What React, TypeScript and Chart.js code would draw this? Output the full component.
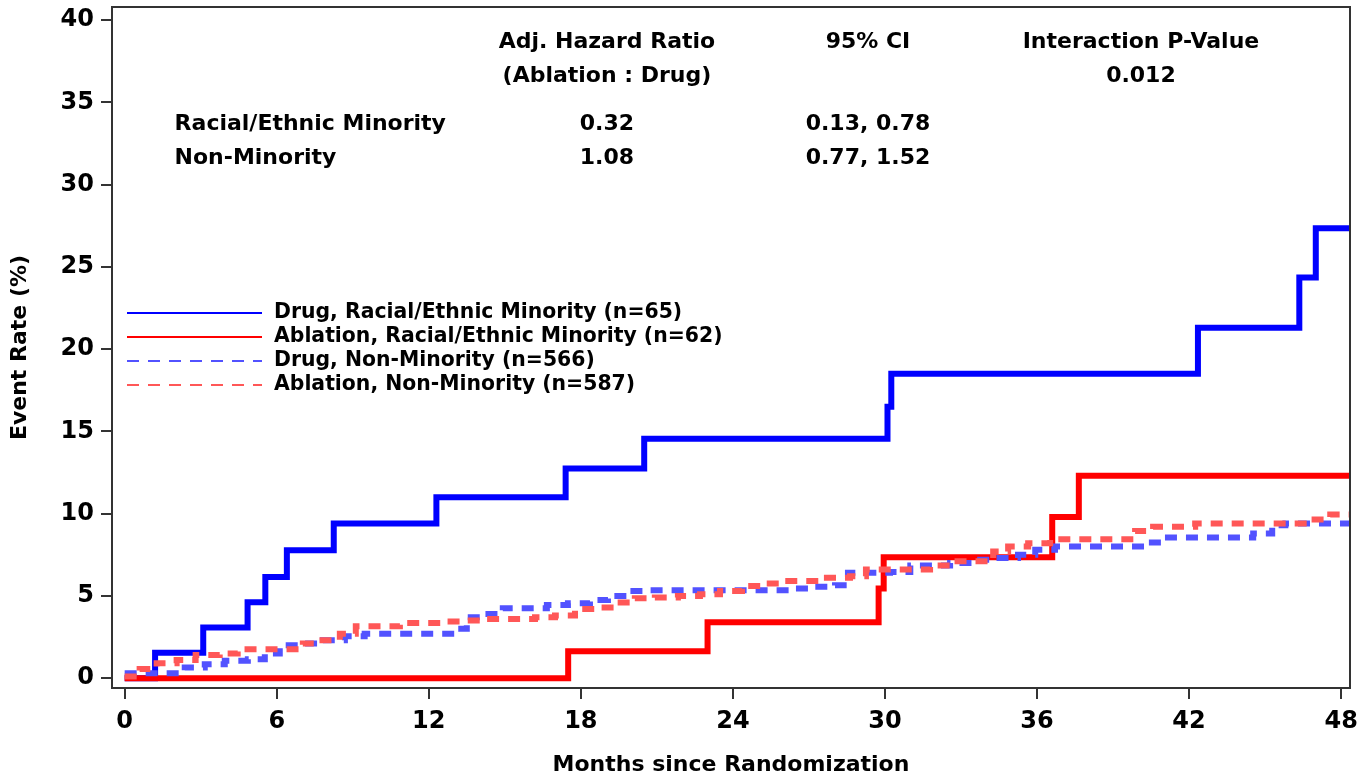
import React, { useEffect, useRef } from 'react';
import { Chart, registerables } from 'chart.js';

Chart.register(...registerables);

// ---------- tick labels ----------
const X_TICKS = [0, 6, 12, 18, 24, 30, 36, 42, 48];
const Y_TICKS = [0, 5, 10, 15, 20, 25, 30, 35, 40];

// ---------- series (month of step, cumulative event rate %) ----------
const drugMinorityMonths = [0, 1.2, 3.1, 4.85, 5.55, 6.4, 8.25, 12.3, 17.4, 20.5, 30.1, 30.25, 42.35, 46.35, 47.0, 48.4];
const drugMinorityRates = [0, 1.54, 3.08, 4.62, 6.15, 7.77, 9.4, 11.0, 12.75, 14.55, 16.5, 18.5, 21.3, 24.35, 27.35, 27.35];

const ablationMinorityMonths = [0, 17.5, 23.0, 29.75, 29.95, 36.6, 37.65, 48.4];
const ablationMinorityRates = [0, 1.64, 3.4, 5.45, 7.35, 9.8, 12.3, 12.3];

const drugNonMinorityMonths = [0, 2.37, 3.16, 3.95, 4.86, 5.53, 6.12, 7.03, 7.82, 8.69, 9.47, 13.03, 13.5, 14.2, 14.92, 16.66, 17.49, 18.36, 19.07, 19.94, 20.73, 26.25, 27.04, 28.03, 28.54, 30.2, 31.0, 32.57, 33.56, 34.35, 35.25, 35.93, 36.71, 40.39, 40.98, 44.53, 45.28, 45.8, 48.4];
const drugNonMinorityRates = [0.3, 0.65, 0.85, 1.05, 1.15, 1.5, 2.0, 2.1, 2.3, 2.55, 2.7, 3.0, 3.7, 3.9, 4.25, 4.45, 4.55, 4.75, 5.0, 5.3, 5.35, 5.45, 5.55, 5.65, 6.4, 6.45, 6.85, 7.0, 7.2, 7.3, 7.5, 7.8, 8.0, 8.25, 8.55, 8.8, 9.3, 9.4, 9.4];

const ablationNonMinorityMonths = [0, 0.59, 1.26, 2.05, 2.8, 3.75, 4.46, 7.03, 7.5, 8.49, 9.12, 10.86, 12.63, 13.5, 14.29, 16.19, 16.98, 17.77, 18.63, 19.34, 20.13, 20.92, 21.83, 22.7, 23.49, 24.36, 25.15, 26.06, 27.71, 28.62, 29.25, 31.78, 32.69, 34.27, 34.86, 35.65, 36.52, 39.87, 40.58, 42.24, 46.78, 47.57, 48.4];
const ablationNonMinorityRates = [0.1, 0.55, 0.9, 1.1, 1.4, 1.5, 1.75, 2.1, 2.3, 2.7, 3.15, 3.35, 3.45, 3.5, 3.6, 3.7, 3.8, 4.2, 4.3, 4.6, 4.85, 4.9, 5.0, 5.1, 5.3, 5.6, 5.75, 5.9, 6.1, 6.2, 6.6, 6.85, 7.1, 7.7, 8.0, 8.2, 8.45, 8.95, 9.2, 9.4, 9.65, 9.95, 9.95];

const SERIES_LABELS = [
  'Drug, Racial/Ethnic Minority (n=65)',
  'Ablation, Racial/Ethnic Minority (n=62)',
  'Drug, Non-Minority (n=566)',
  'Ablation, Non-Minority (n=587)',
];

// ---------- annotation table ----------
const HR_HEADER = ['Adj. Hazard Ratio', '(Ablation : Drug)'];
const CI_HEADER = '95% CI';
const P_HEADER = 'Interaction P-Value';
const P_VALUE = '0.012';
const GROUPS = ['Racial/Ethnic Minority', 'Non-Minority'];
const HR_VALUES = ['0.32', '1.08'];
const CI_VALUES = ['0.13, 0.78', '0.77, 1.52'];

const X_TITLE = 'Months since Randomization';
const Y_TITLE = 'Event Rate (%)';

const FONT = '"DejaVu Sans", sans-serif';

const toPoints = (xs: number[], ys: number[]) => xs.map((x, i) => ({ x, y: ys[i] }));

const COLORS = ['#0000ff', '#ff0000', '#5252ff', '#ff5757'];
const DASHED = [false, false, true, true];

const overlayPlugin = {
  id: 'overlay',
  afterDraw(chart: any) {
    const { ctx, chartArea, scales } = chart;
    const xs = scales.x;
    const ys = scales.y;
    ctx.save();
    // frame
    ctx.strokeStyle = '#333333';
    ctx.lineWidth = 2;
    ctx.setLineDash([]);
    ctx.strokeRect(chartArea.left, chartArea.top, chartArea.right - chartArea.left, chartArea.bottom - chartArea.top);

    // annotation table
    ctx.fillStyle = '#000';
    ctx.textBaseline = 'middle';
    ctx.font = `bold 22px ${FONT}`;
    const colHR = xs.getPixelForValue(19.03);
    const colCI = xs.getPixelForValue(29.33);
    const colP = xs.getPixelForValue(40.1);
    const colG = xs.getPixelForValue(1.97);
    const row1 = ys.getPixelForValue(38.65);
    const row2 = ys.getPixelForValue(36.6);
    const rowA = ys.getPixelForValue(33.7);
    const rowB = ys.getPixelForValue(31.63);
    ctx.textAlign = 'center';
    ctx.fillText(HR_HEADER[0], colHR, row1);
    ctx.fillText(HR_HEADER[1], colHR, row2);
    ctx.fillText(CI_HEADER, colCI, row1);
    ctx.fillText(P_HEADER, colP, row1);
    ctx.fillText(P_VALUE, colP, row2);
    ctx.fillText(HR_VALUES[0], colHR, rowA);
    ctx.fillText(HR_VALUES[1], colHR, rowB);
    ctx.fillText(CI_VALUES[0], colCI, rowA);
    ctx.fillText(CI_VALUES[1], colCI, rowB);
    ctx.textAlign = 'left';
    ctx.fillText(GROUPS[0], colG, rowA);
    ctx.fillText(GROUPS[1], colG, rowB);

    // legend
    ctx.font = `bold 20.4px ${FONT}`;
    const lx0 = chartArea.left + 15;
    const lx1 = chartArea.left + 150;
    const ly0 = chartArea.top + 306;
    SERIES_LABELS.forEach((label, i) => {
      const y = ly0 + i * 24;
      ctx.strokeStyle = COLORS[i];
      ctx.lineWidth = 2;
      ctx.setLineDash(DASHED[i] ? [12, 9] : []);
      ctx.beginPath();
      ctx.moveTo(lx0, y);
      ctx.lineTo(lx1, y);
      ctx.stroke();
      ctx.setLineDash([]);
      ctx.fillStyle = '#000';
      ctx.fillText(label, lx1 + 12, y);
    });

    // axis titles
    ctx.font = `bold 22px ${FONT}`;
    ctx.textAlign = 'center';
    ctx.fillText(X_TITLE, (chartArea.left + chartArea.right) / 2, chart.height - 16);
    ctx.translate(20, (chartArea.top + chartArea.bottom) / 2);
    ctx.rotate(-Math.PI / 2);
    ctx.fillText(Y_TITLE, 0, 0);
    ctx.restore();
  },
};

export default function App() {
  const canvasRef = useRef<HTMLCanvasElement | null>(null);

  useEffect(() => {
    document.body.style.margin = '0';
    const canvas = canvasRef.current;
    if (!canvas) return;
    const seriesX = [drugMinorityMonths, ablationMinorityMonths, drugNonMinorityMonths, ablationNonMinorityMonths];
    const seriesY = [drugMinorityRates, ablationMinorityRates, drugNonMinorityRates, ablationNonMinorityRates];
    const orders = [3, 2, 1, 0];
    const datasets = SERIES_LABELS.map((label, i) => ({
      label,
      data: toPoints(seriesX[i], seriesY[i]),
      borderColor: COLORS[i],
      backgroundColor: COLORS[i],
      borderWidth: 6,
      borderDash: DASHED[i] ? [12, 9] : [],
      borderCapStyle: 'butt' as const,
      borderJoinStyle: 'miter' as const,
      stepped: 'before' as const,
      pointRadius: 0,
      fill: false,
      order: orders[i],
    }));

    const chart = new Chart(canvas, {
      type: 'line',
      data: { datasets },
      plugins: [overlayPlugin],
      options: {
        animation: false,
        responsive: false,
        maintainAspectRatio: false,
        events: [],
        layout: { padding: { left: 0, right: 19, top: 7, bottom: 0 } },
        plugins: { legend: { display: false }, tooltip: { enabled: false }, title: { display: false } },
        scales: {
          x: {
            type: 'linear',
            min: -0.5,
            max: 48.35,
            afterBuildTicks: (scale: any) => { scale.ticks = X_TICKS.map((v) => ({ value: v })); },
            afterFit: (scale: any) => {
              scale.height = 93;
              scale.paddingLeft = 0;
              scale.paddingRight = 0;
            },
            grid: { drawOnChartArea: false, drawTicks: true, tickLength: 11, color: '#333', lineWidth: 2 },
            border: { display: false },
            ticks: {
              autoSkip: false,
              maxRotation: 0,
              padding: 8,
              color: '#000',
              font: { family: FONT, size: 24, weight: 'bold' },
              callback: (v: any) => String(v),
            },
          },
          y: {
            type: 'linear',
            min: -0.6,
            max: 40.8,
            afterBuildTicks: (scale: any) => { scale.ticks = Y_TICKS.map((v) => ({ value: v })); },
            afterFit: (scale: any) => {
              scale.width = 112;
              scale.paddingTop = 0;
              scale.paddingBottom = 0;
            },
            grid: { drawOnChartArea: false, drawTicks: true, tickLength: 11, color: '#333', lineWidth: 2 },
            border: { display: false },
            ticks: {
              autoSkip: false,
              padding: 7,
              color: '#000',
              font: { family: FONT, size: 24, weight: 'bold' },
              callback: (v: any) => String(v),
            },
          },
        },
      },
    });
    return () => chart.destroy();
  }, []);

  return (
    <div style={{ width: 1369, height: 781 }}>
      <canvas ref={canvasRef} width={1369} height={781} style={{ display: 'block', width: 1369, height: 781 }} />
    </div>
  );
}
